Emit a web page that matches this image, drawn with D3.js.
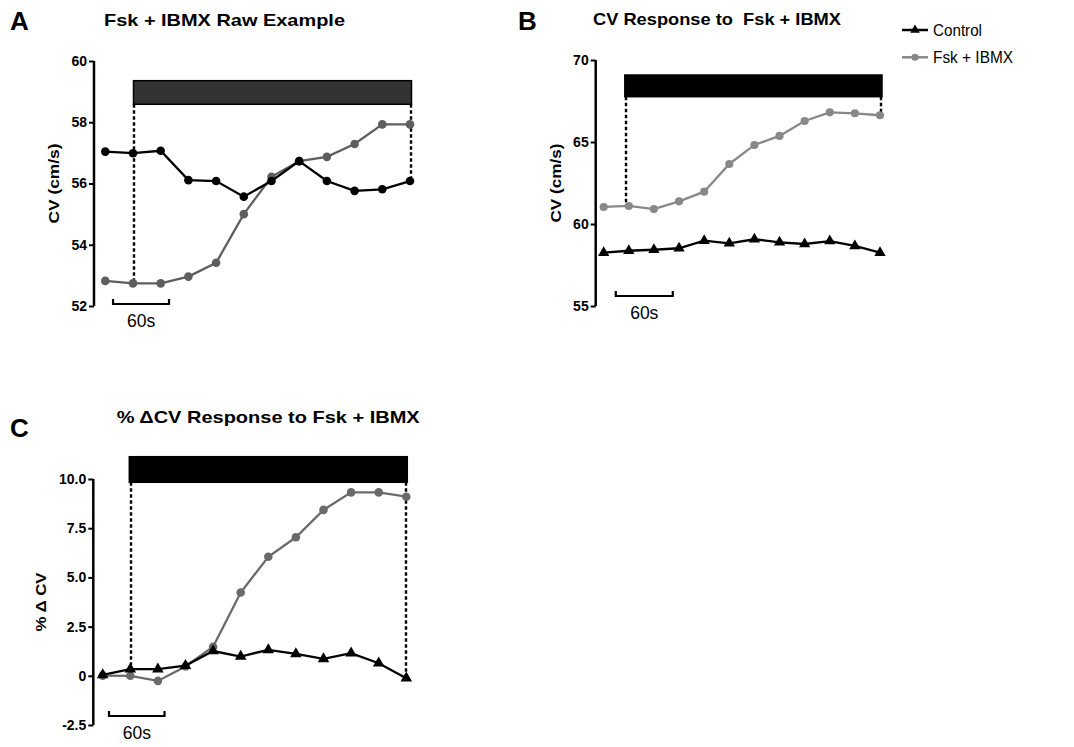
<!DOCTYPE html>
<html>
<head>
<meta charset="utf-8">
<script src="https://cdn.jsdelivr.net/npm/d3@7"></script>
<style>
  html, body { margin: 0; padding: 0; background: #fff; }
  svg { display: block; }
  text { font-family: "Liberation Sans", Arial, sans-serif; }
</style>
</head>
<body>
<svg id="chart" width="1074" height="747"></svg>
<script>
// Time points: one reading every 30 s, 12 readings per trace
const timeIndex = [0, 1, 2, 3, 4, 5, 6, 7, 8, 9, 10, 11];

// A: single raw recording (CV, cm/s)
const rawControl = [57.04, 56.99, 57.07, 56.11, 56.08, 55.57, 56.08, 56.73, 56.08, 55.76, 55.81, 56.08];
const rawFsk     = [52.82, 52.74, 52.74, 52.96, 53.41, 55.00, 56.22, 56.73, 56.87, 57.29, 57.93, 57.93];
const rawTicks   = [52, 54, 56, 58, 60];

// B: mean CV (cm/s)
const cvControl = [58.25, 58.37, 58.43, 58.52, 58.98, 58.82, 59.07, 58.88, 58.78, 58.96, 58.66, 58.25];
const cvFsk     = [61.04, 61.10, 60.91, 61.38, 61.97, 63.66, 64.82, 65.37, 66.28, 66.81, 66.75, 66.63];
const cvTicks   = [55, 60, 65, 70];

// C: percent change in CV from baseline
const pctControl = [0.05, 0.34, 0.34, 0.52, 1.26, 0.98, 1.32, 1.11, 0.86, 1.15, 0.64, -0.12];
const pctFsk     = [0.01, 0.00, -0.26, 0.47, 1.48, 4.23, 6.05, 7.04, 8.43, 9.32, 9.32, 9.10];
const pctTicks   = [-2.5, 0, 2.5, 5.0, 7.5, 10.0];

// Drug application window (in time-point units)
const drugWindow = [1, 11];

const svg = d3.select("#chart");

function panel(cfg) {
  const g = svg.append("g");
  const x = d3.scaleLinear().domain([0, 11]).range(cfg.xRange);
  const y = d3.scaleLinear().domain(cfg.yDomain).range(cfg.yRange);

  // panel letter and title
  g.append("text").attr("x", cfg.letterPos[0]).attr("y", cfg.letterPos[1])
    .attr("font-family", cfg.letterFont).attr("font-weight", "bold")
    .attr("font-size", cfg.letterSize).text(cfg.letter);
  g.append("text").attr("x", cfg.titlePos[0]).attr("y", cfg.titlePos[1])
    .attr("font-weight", "bold").attr("font-size", 17)
    .attr("textLength", cfg.titleLen).attr("lengthAdjust", "spacingAndGlyphs")
    .style("white-space", "pre")
    .text(cfg.title);

  // y axis
  const axis = d3.axisLeft(y).tickValues(cfg.ticks).tickSize(5).tickPadding(2)
    .tickFormat(cfg.tickFormat);
  const ag = g.append("g").attr("transform", `translate(${cfg.axisX},0)`).call(axis);
  ag.select(".domain").attr("stroke-width", 2.5).attr("d",
    `M0,${y(cfg.yDomain[0])}V${y(cfg.yDomain[1])}`);
  ag.selectAll(".tick line").attr("stroke-width", 2);
  ag.selectAll(".tick text").attr("font-family", "'Liberation Sans', Arial, sans-serif")
    .attr("font-weight", "bold").attr("font-size", 14).attr("fill", "#000");

  // y label
  const ly = (y(cfg.yDomain[0]) + y(cfg.yDomain[1])) / 2 + cfg.labelShift;
  g.append("text")
    .attr("transform", `translate(${cfg.labelX},${ly}) rotate(-90)`)
    .attr("text-anchor", "middle").attr("font-weight", "bold").attr("font-size", 15)
    .attr("textLength", cfg.labelLen).attr("lengthAdjust", "spacingAndGlyphs")
    .text(cfg.yLabel);

  // drug application bar
  g.append("rect")
    .attr("x", x(drugWindow[0]) + cfg.barPad[0])
    .attr("y", cfg.barY[0])
    .attr("width", x(drugWindow[1]) - x(drugWindow[0]) + cfg.barPad[1] - cfg.barPad[0])
    .attr("height", cfg.barY[1] - cfg.barY[0])
    .attr("fill", cfg.barFill).attr("stroke", "#000").attr("stroke-width", 1.5);

  // dotted guides from bar ends down to the traces
  cfg.guides.forEach(gd => {
    const gx = Math.round(x(gd.i) + gd.dx);
    g.append("line")
      .attr("x1", gx).attr("x2", gx)
      .attr("y1", cfg.barY[1]).attr("y2", y(gd.series[gd.i]))
      .attr("stroke", "#000").attr("stroke-width", 2.4).attr("stroke-dasharray", "3.5,2.5");
  });

  // series
  cfg.series.forEach(s => {
    const line = d3.line().x((d, i) => x(timeIndex[i])).y(d => y(d));
    g.append("path").datum(s.values).attr("d", line)
      .attr("fill", "none").attr("stroke", s.color).attr("stroke-width", 2.3);
    const sym = d3.symbol().type(s.shape).size(s.size);
    g.selectAll(null).data(s.values).enter().append("path")
      .attr("d", sym)
      .attr("transform", (d, i) => `translate(${x(timeIndex[i])},${y(d)})`)
      .attr("fill", s.color);
  });

  // 60 s scale bar
  const sb = cfg.scaleBar;
  const sx0 = x(sb[0]), sx1 = x(sb[1]);
  g.append("path")
    .attr("d", `M${sx0},${cfg.scaleY - 5}V${cfg.scaleY}H${sx1}V${cfg.scaleY - 5}`)
    .attr("fill", "none").attr("stroke", "#000").attr("stroke-width", 2.2);
  g.append("text").attr("x", (sx0 + sx1) / 2).attr("y", cfg.scaleY + 23)
    .attr("text-anchor", "middle").attr("font-size", 17.5).text("60s");
}

const fmt0 = d3.format("d");
const fmtPct = d => d === 0 ? "0" : (d < 0 ? "-" : "") + Math.abs(d).toFixed(1);

// Panel A
panel({
  letter: "A", letterPos: [10, 30], letterSize: 26, letterFont: "'Liberation Sans', Arial, sans-serif",
  title: "Fsk + IBMX Raw Example", titlePos: [104, 26], titleLen: 241,
  xRange: [105.3, 410], yDomain: [52, 60], yRange: [306, 61], axisX: 94,
  ticks: rawTicks, tickFormat: fmt0,
  yLabel: "CV (cm/s)", labelX: 59, labelLen: 80, labelShift: 0,
  barY: [80.7, 104.3], barPad: [0.5, 1.5], barFill: "#333333",
  guides: [{ i: 1, dx: 0.5, series: rawFsk }, { i: 11, dx: 1, series: rawControl }],
  series: [
    { values: rawFsk, color: "#5e5e5e", shape: d3.symbolCircle, size: 58 },
    { values: rawControl, color: "#000000", shape: d3.symbolCircle, size: 58 }
  ],
  scaleBar: [0.28, 2.3], scaleY: 304
});

// Panel B
panel({
  letter: "B", letterPos: [518, 30], letterSize: 26, letterFont: "Lato, 'Open Sans', sans-serif",
  title: "CV Response to  Fsk + IBMX", titlePos: [593, 25], titleLen: 248,
  xRange: [603.7, 880], yDomain: [55, 70], yRange: [306, 60], axisX: 595.7,
  ticks: cvTicks, tickFormat: fmt0,
  yLabel: "CV (cm/s)", labelX: 561, labelLen: 79, labelShift: 0,
  barY: [75, 96.7], barPad: [-4, 2], barFill: "#000000",
  guides: [{ i: 1, dx: -2.5, series: cvFsk }, { i: 11, dx: 0.5, series: cvFsk }],
  series: [
    { values: cvControl, color: "#000000", shape: d3.symbolTriangle, size: 55 },
    { values: cvFsk, color: "#888888", shape: d3.symbolCircle, size: 52 }
  ],
  scaleBar: [0.48, 2.75], scaleY: 296
});

// Panel C
panel({
  letter: "C", letterPos: [10, 437], letterSize: 26, letterFont: "Lato, 'Open Sans', sans-serif",
  title: "% \u0394CV Response to Fsk + IBMX", titlePos: [116.7, 423], titleLen: 303,
  xRange: [102.7, 406.3], yDomain: [-2.5, 10], yRange: [725, 479], axisX: 93.3,
  ticks: pctTicks, tickFormat: fmtPct,
  yLabel: "% \u0394 CV", labelX: 46, labelLen: 59, labelShift: 0,
  barY: [456.7, 482.3], barPad: [-1, 1], barFill: "#000000",
  guides: [{ i: 1, dx: 0.5, series: pctControl }, { i: 11, dx: 0, series: pctControl }],
  series: [
    { values: pctFsk, color: "#6a6a6a", shape: d3.symbolCircle, size: 58 },
    { values: pctControl, color: "#000000", shape: d3.symbolTriangle, size: 58 }
  ],
  scaleBar: [0.23, 2.24], scaleY: 716
});

// Legend
const legendItems = [
  { name: "Control", color: "#000000", shape: d3.symbolTriangle, len: 49 },
  { name: "Fsk + IBMX", color: "#888888", shape: d3.symbolCircle, len: 80 }
];
const lg = svg.append("g").attr("transform", "translate(902,30)");
legendItems.forEach((it, k) => {
  const row = lg.append("g").attr("transform", `translate(0,${k * 27.3})`);
  row.append("line").attr("x1", 0).attr("x2", 26).attr("y1", 0).attr("y2", 0)
    .attr("stroke", it.color).attr("stroke-width", 2.5);
  row.append("path").attr("d", d3.symbol().type(it.shape).size(40)())
    .attr("transform", "translate(13,0)").attr("fill", it.color);
  row.append("text").attr("x", 31).attr("y", 5.5).attr("font-size", 16)
    .attr("textLength", it.len).attr("lengthAdjust", "spacingAndGlyphs")
    .text(it.name);
});
</script>
</body>
</html>
